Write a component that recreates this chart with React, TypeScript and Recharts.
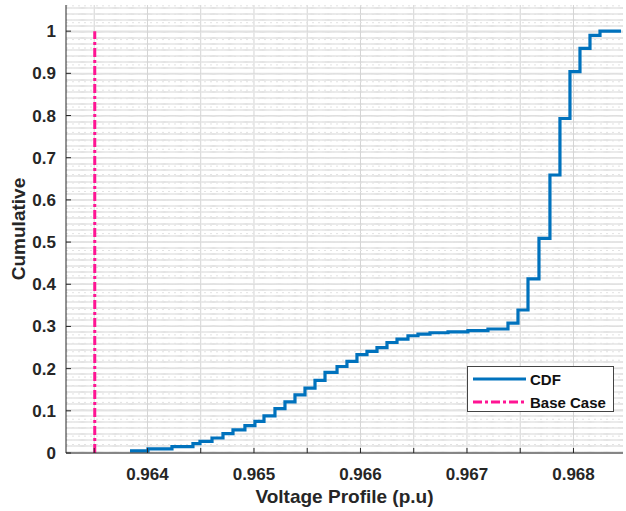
import React from "react";
import {
    ComposedChart,
    Line,
    XAxis,
    YAxis,
    CartesianGrid,
    ReferenceLine,
} from "recharts";

const cdfVoltage = [
    0.963836, 0.964005, 0.96423, 0.964427, 0.964493, 0.964606, 0.964709, 0.964803,
    0.964915, 0.965009, 0.965094, 0.965197, 0.965291, 0.965385, 0.965479, 0.965573,
    0.965667, 0.96578, 0.965873, 0.965967, 0.966061, 0.966155, 0.966249, 0.966343,
    0.966446, 0.96654, 0.966653, 0.966822, 0.967009, 0.967197, 0.967385, 0.967479,
    0.967573, 0.967676, 0.967779, 0.967873, 0.967967, 0.968061, 0.968155, 0.968249,
    0.968446,
];
const cdfCumulative = [
    0.005, 0.01, 0.015, 0.022, 0.0275, 0.0355, 0.0457, 0.055,
    0.065, 0.075, 0.088, 0.105, 0.121, 0.138, 0.154, 0.172,
    0.191, 0.205, 0.217, 0.233, 0.241, 0.25, 0.262, 0.27,
    0.278, 0.282, 0.285, 0.287, 0.29, 0.294, 0.308, 0.339,
    0.413, 0.509, 0.659, 0.793, 0.904, 0.959, 0.99, 1.0,
    1.0,
];

const baseCaseVoltage = 0.963505;
const baseCaseRange = [0, 1];

const xMajorTicks = [
    0.9635, 0.964, 0.9645, 0.965, 0.9655, 0.966, 0.9665, 0.967, 0.9675, 0.968,
];
const yMajorTicks = [0, 0.1, 0.2, 0.3, 0.4, 0.5, 0.6, 0.7, 0.8, 0.9, 1];

const X_DOMAIN: [number, number] = [0.963235, 0.968465];
const Y_DOMAIN: [number, number] = [0, 1.062];

// minor grid every 0.0001 in x and 0.02 in y (skipping the major lines)
const xMinorTicks: number[] = [];
for (let i = 96324; i <= 96846; i++) if (i % 50 !== 0) xMinorTicks.push(i / 100000);
const yMinorTicks: number[] = [];
for (let i = 1; i <= 53; i++) if (i % 5 !== 0) yMinorTicks.push(i / 50);

const cdfData = cdfVoltage.map((v, i) => ({ v, cdf: cdfCumulative[i] }));
const baseData = baseCaseRange.map((y) => ({ v: baseCaseVoltage, base: y }));

const AXIS = "#262626";
const FONT = "'Liberation Sans', Arial, Helvetica, sans-serif";
const BLUE = "#0072BD";
const PINK = "#FF1493";
const MINOR = "#e3e3e3";

const fmtX = (v: number) =>
    Math.abs(v * 1000 - Math.round(v * 1000)) < 1e-6 ? v.toFixed(3) : "";
const fmtY = (v: number) => String(Number(v.toFixed(1)));

export default function App() {
    return (
        <div style={{ position: "relative", width: 626, height: 511, background: "#fff" }}>
            <style>{"body{margin:0;background:#fff}"}</style>
            <ComposedChart
                width={626}
                height={511}
                margin={{ top: 5, right: 3, bottom: 0, left: 0 }}
            >
                {/* minor grid, dotted */}
                {xMinorTicks.map((v) => (
                    <ReferenceLine
                        key={`mx-${v}`}
                        xAxisId="x"
                        yAxisId="y"
                        x={v}
                        stroke={MINOR}
                        strokeWidth={1}
                        strokeDasharray="2 4"
                    />
                ))}
                {yMinorTicks.map((v) => (
                    <ReferenceLine
                        key={`my-${v}`}
                        xAxisId="x"
                        yAxisId="y"
                        y={v}
                        stroke={MINOR}
                        strokeWidth={1}
                        strokeDasharray="2 4"
                    />
                ))}
                <CartesianGrid
                    xAxisId="x"
                    yAxisId="y"
                    verticalValues={xMajorTicks}
                    horizontalValues={yMajorTicks}
                    stroke="#d4d4d4"
                    strokeWidth={1}
                />
                <XAxis
                    xAxisId="x"
                    dataKey="v"
                    type="number"
                    domain={X_DOMAIN}
                    allowDataOverflow
                    ticks={xMajorTicks}
                    interval={0}
                    tickFormatter={fmtX}
                    height={58}
                    tickSize={-5}
                    tickMargin={20}
                    stroke={AXIS}
                    tick={{ fill: AXIS, fontSize: 17, fontWeight: "bold", fontFamily: FONT }}
                    label={{
                        value: "Voltage Profile (p.u)",
                        position: "insideBottom",
                        offset: 8,
                        style: { fill: AXIS, fontSize: 19, fontWeight: "bold", fontFamily: FONT },
                    }}
                />
                <XAxis
                    xAxisId="top"
                    orientation="top"
                    dataKey="v"
                    type="number"
                    domain={X_DOMAIN}
                    allowDataOverflow
                    ticks={xMajorTicks}
                    interval={0}
                    height={0}
                    tick={false}
                    tickSize={-5}
                    stroke={AXIS}
                />
                <YAxis
                    yAxisId="y"
                    type="number"
                    domain={Y_DOMAIN}
                    allowDataOverflow
                    ticks={yMajorTicks}
                    interval={0}
                    tickFormatter={fmtY}
                    width={66}
                    tickSize={-5}
                    tickMargin={15}
                    stroke={AXIS}
                    tick={{ fill: AXIS, fontSize: 17, fontWeight: "bold", fontFamily: FONT }}
                    label={{
                        value: "Cumulative",
                        angle: -90,
                        position: "insideLeft",
                        offset: 18,
                        style: {
                            fill: AXIS,
                            fontSize: 19,
                            fontWeight: "bold",
                            fontFamily: FONT,
                            textAnchor: "middle",
                        },
                    }}
                />
                <YAxis
                    yAxisId="right"
                    orientation="right"
                    type="number"
                    domain={Y_DOMAIN}
                    allowDataOverflow
                    ticks={yMajorTicks}
                    interval={0}
                    width={0}
                    tick={false}
                    tickSize={-5}
                    stroke={AXIS}
                />
                <Line
                    xAxisId="x"
                    yAxisId="y"
                    data={cdfData}
                    dataKey="cdf"
                    type="stepAfter"
                    stroke={BLUE}
                    strokeWidth={3.2}
                    dot={false}
                    isAnimationActive={false}
                />
                <Line
                    xAxisId="x"
                    yAxisId="y"
                    data={baseData}
                    dataKey="base"
                    type="linear"
                    stroke={PINK}
                    strokeWidth={3}
                    strokeDasharray="9 3 3 3"
                    dot={false}
                    isAnimationActive={false}
                />
            </ComposedChart>

            {/* legend box, lower right */}
            <div
                style={{
                    position: "absolute",
                    left: 467,
                    top: 366,
                    width: 145,
                    height: 44,
                    border: "1.5px solid #444",
                    background: "#fff",
                    fontFamily: FONT,
                    fontWeight: "bold",
                    fontSize: 15,
                    color: "#111",
                }}
            >
                <div style={{ position: "absolute", left: 5, top: 2, display: "flex", alignItems: "center", height: 20 }}>
                    <svg width={53} height={6}>
                        <line x1={0} y1={3} x2={53} y2={3} stroke={BLUE} strokeWidth={3} />
                    </svg>
                    <span style={{ marginLeft: 4 }}>CDF</span>
                </div>
                <div style={{ position: "absolute", left: 5, top: 25, display: "flex", alignItems: "center", height: 20 }}>
                    <svg width={53} height={6}>
                        <line
                            x1={0}
                            y1={3}
                            x2={53}
                            y2={3}
                            stroke={PINK}
                            strokeWidth={3}
                            strokeDasharray="9 3 3 3"
                        />
                    </svg>
                    <span style={{ marginLeft: 4 }}>Base Case</span>
                </div>
            </div>
        </div>
    );
}
